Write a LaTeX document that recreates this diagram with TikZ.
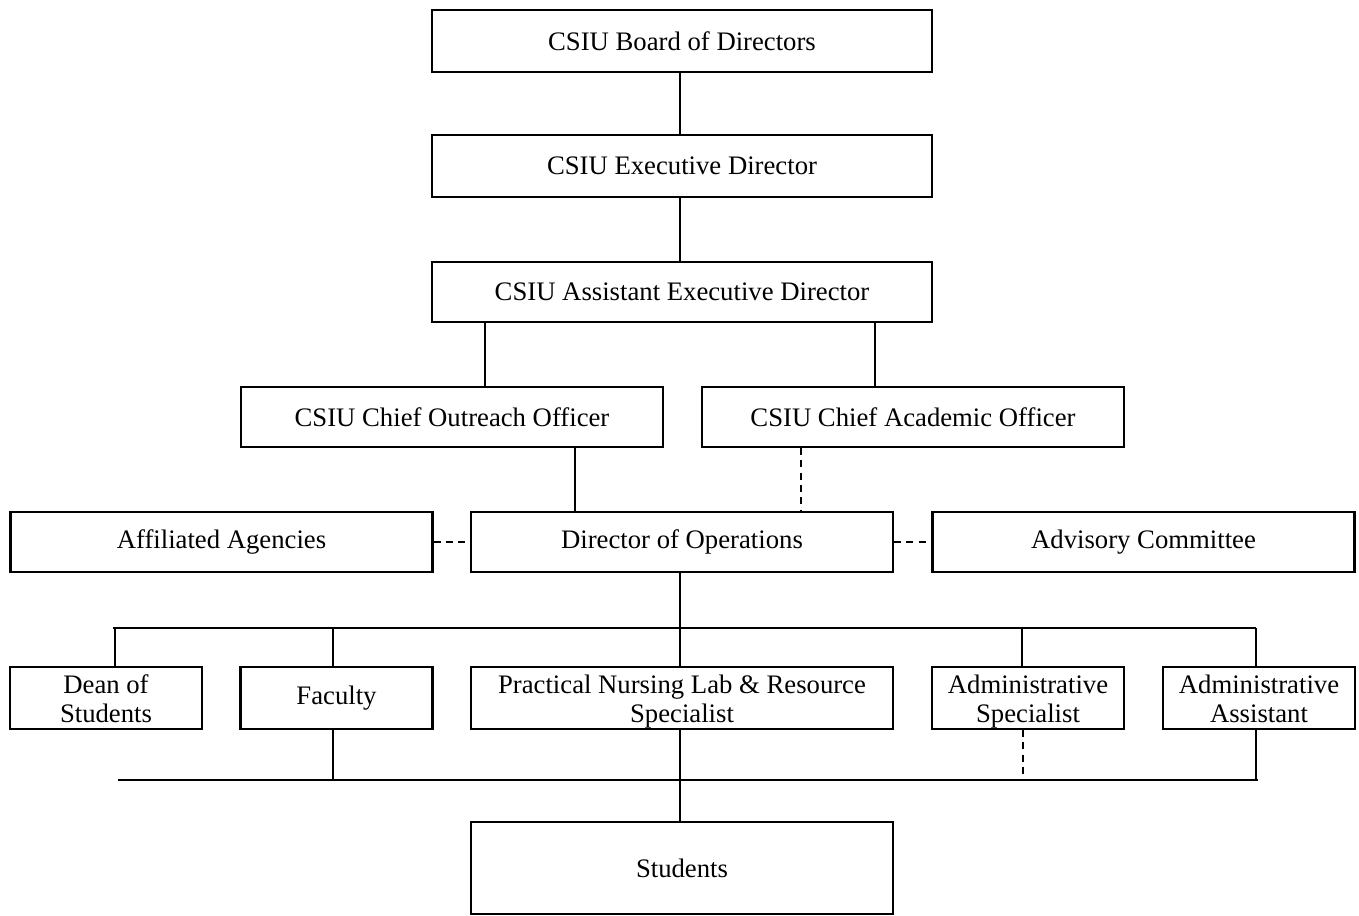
\documentclass[tikz,border=0pt]{standalone}
\usepackage{fontspec}
\setmainfont{Liberation Serif}
\usetikzlibrary{positioning}
\newcommand{\twolines}[2]{\rule{0pt}{14.2pt}#1\\#2\rule[-2.3pt]{0pt}{2.3pt}}
\tikzset{
  orgbox/.style={rectangle, draw=black, line width=1.2pt, align=center, inner sep=2pt,
    font=\fontsize{15.2}{16.5}\selectfont},
  widebox/.style={orgbox, minimum width=8.44cm, minimum height=1.2cm},
  smallbox/.style={orgbox, minimum width=3.84cm, minimum height=1.24cm},
  pairbox/.style={inner ysep=0pt, minimum height=1.24cm},
  solidlink/.style={line width=0.9pt},
  dashlink/.style={line width=0.9pt, dash pattern=on 4pt off 3pt},
}

\begin{document}
\begin{tikzpicture}[x=0.02cm, y=-0.02cm]
\useasboundingbox (0,0) rectangle (1359,916);

\node[orgbox, minimum width=10cm, minimum height=1.24cm] (board) at (682,41) {CSIU Board of Directors};
\node[orgbox, minimum width=10cm, minimum height=1.24cm] (exec) at (682,166) {CSIU Executive Director};
\node[orgbox, minimum width=10cm, minimum height=1.2cm] (asst) at (682,292) {CSIU Assistant Executive Director};

\node[widebox] (outreach) at (452,417) {CSIU Chief Outreach Officer};
\node[widebox] (academic) at (913,417) {CSIU Chief Academic Officer};

\node[widebox] (affil) at (221.5,542) {Affiliated Agencies};
\node[widebox] (dirops) at (682,542) {Director of Operations};
\node[widebox] (advis) at (1143.5,542) {Advisory Committee};

\node[smallbox, pairbox] (dean) at (106,698) {\twolines{Dean of}{Students}};
\node[smallbox] (faculty) at (336.5,698) {Faculty};
\node[widebox, pairbox] (pnlab) at (682,698) {\twolines{Practical Nursing Lab \& Resource}{Specialist}};
\node[smallbox, pairbox] (adminspec) at (1028,698) {\twolines{Administrative}{Specialist}};
\node[smallbox, pairbox] (adminasst) at (1259,698) {\twolines{Administrative}{Assistant}};

\node[widebox, minimum height=1.84cm] (students) at (682,868) {Students};

\coordinate (xout) at (485,0);
\coordinate (xacad) at (875,0);
\coordinate (xops) at (575,0);
\coordinate (xdash) at (801,0);
\coordinate (xmid) at (680,0);
\coordinate (xfac) at (333,0);
\coordinate (busl) at (113,628);
\coordinate (busr) at (1256,628);
\coordinate (basel) at (118,780);
\coordinate (baser) at (1258,780);

\draw[solidlink] (board.south -| xmid) -- (exec.north -| xmid);
\draw[solidlink] (exec.south -| xmid) -- (asst.north -| xmid);
\draw[solidlink] (asst.south -| xout) -- (outreach.north -| xout);
\draw[solidlink] (asst.south -| xacad) -- (academic.north -| xacad);
\draw[solidlink] (outreach.south -| xops) -- (dirops.north -| xops);
\draw[dashlink] (academic.south -| xdash) -- (dirops.north -| xdash);
\draw[dashlink] (affil.east) -- (dirops.west);
\draw[dashlink] (dirops.east) -- (advis.west);

\draw[solidlink] (busl) -- (busr);
\draw[solidlink] (dirops.south -| xmid) -- (pnlab.north -| xmid);
\draw[solidlink] (busl -| 115,0) -- (dean.north -| 115,0);
\draw[solidlink] (busl -| xfac) -- (faculty.north -| xfac);
\draw[solidlink] (busl -| 1022,0) -- (adminspec.north -| 1022,0);
\draw[solidlink] (busr) -- (adminasst.north -| busr);

\draw[solidlink] (basel) -- (baser);
\draw[solidlink] (faculty.south -| xfac) -- (basel -| xfac);
\draw[solidlink] (pnlab.south -| xmid) -- (students.north -| xmid);
\draw[dashlink] (adminspec.south -| 1023,0) -- (basel -| 1023,0);
\draw[solidlink] (adminasst.south -| busr) -- (baser -| busr);
\end{tikzpicture}
\end{document}
